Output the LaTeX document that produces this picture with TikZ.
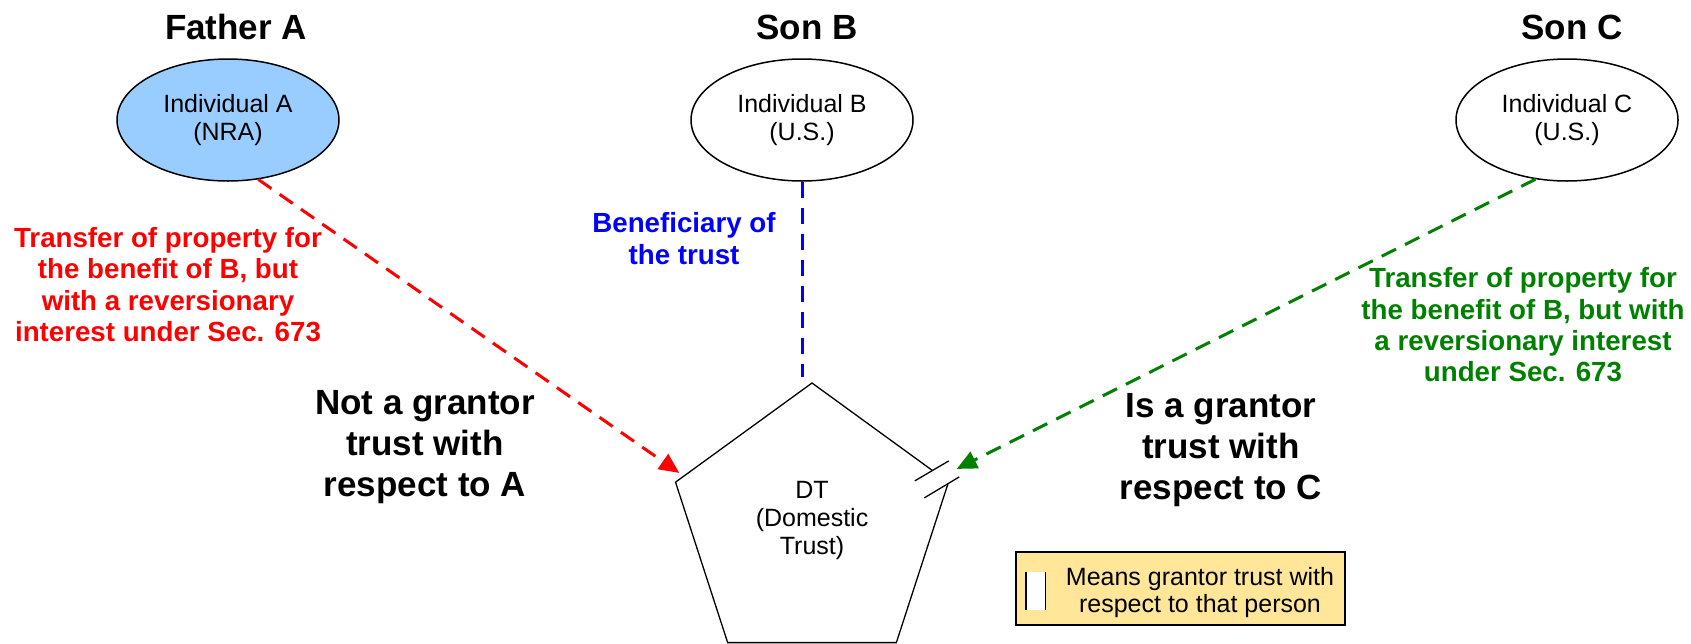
\documentclass[tikz,border=0pt]{standalone}
\usepackage{fontspec}
\setmainfont{Liberation Sans}
\usetikzlibrary{shapes.geometric,arrows.meta,calc}
\definecolor{nrablue}{HTML}{99CCFF}
\definecolor{legendfill}{HTML}{FFE699}
\definecolor{dgreen}{HTML}{008000}
\begin{document}
\begin{tikzpicture}[x=1pt,y=-1pt,
  title/.style={font=\fontsize{35}{40}\selectfont\bfseries, anchor=base, inner sep=0pt},
  person/.style={ellipse, draw, line width=1.5pt, minimum width=222pt, minimum height=122pt, inner sep=0pt, align=center, font=\fontsize{25}{28}\selectfont},
  ann/.style={align=center, inner sep=0pt, font=\fontsize{27.7}{31.3}\selectfont\bfseries},
  big/.style={align=center, inner sep=0pt, font=\fontsize{35}{41}\selectfont\bfseries},
  plaintext/.style={align=center, inner sep=0pt, font=\fontsize{25}{28}\selectfont},
  conn/.style={line width=3pt, dash pattern=on 16pt off 10pt},
  tipped/.style={-{Triangle[length=20pt,width=18pt]}}
]
\useasboundingbox (0,0) rectangle (1691,643);
% titles
\node[title] (tA) at (236,39) {Father A};
\node[title] (tB) at (807,39) {Son B};
\node[title] (tC) at (1572,39) {Son C};
% persons
\node[person, fill=nrablue] (A) at (228,120) {Individual A\\(NRA)};
\node[person] (B) at (802,120) {Individual B\\(U.S.)};
\node[person] (C) at (1567,120) {Individual C\\(U.S.)};
% trust
\node[regular polygon, regular polygon sides=5, draw, line width=1.3pt, minimum size=287pt, inner sep=0pt] (P) at (812,526.5) {};
\node[plaintext] (PT) at (812,520.5) {DT\\(Domestic\\Trust)};
% grantor break mark
\fill[white] ($(P.corner 5)+(-34.5,-1)$) -- ($(P.corner 5)+(-0.5,-21)$) -- ($(P.corner 5)+(10,-5)$) -- ($(P.corner 5)+(-25,16)$) -- cycle;
\draw[line width=1.3pt] ($(P.corner 5)+(-34.5,-1)$) -- ($(P.corner 5)+(-0.5,-21)$);
\draw[line width=1.3pt] ($(P.corner 5)+(-25,16)$) -- ($(P.corner 5)+(10,-5)$);
% connectors
\draw[conn, red, tipped] (A.-63) -- ($(P.corner 2)+(4.5,-9)$);
\draw[conn, dgreen, tipped] (C.-118) -- ($(P.corner 5)+(7.5,-13)$);
\draw[conn, blue] (B.south) -- ($(B.south |- P.corner 1)+(0,-5)$);
% annotations
\node[ann, text=red] (tr) at (168,284.5) {Transfer of property for\\the benefit of B, but\\with a reversionary\\interest under Sec. 673};
\node[ann, text=blue] (tb) at (684,238.5) {Beneficiary of\\the trust};
\node[ann, text=dgreen] (tg) at (1523,325) {Transfer of property for\\the benefit of B, but with\\a reversionary interest\\under Sec. 673};
\node[big] (na) at (425,447) {Not a grantor\\trust with\\respect to A};
\node[big] (ig) at (1221,450) {Is a grantor\\trust with\\respect to C};
% legend
\node[draw, line width=1.3pt, fill=legendfill, minimum width=329pt, minimum height=73pt, inner sep=0pt] (L) at (1180.5,588.5) {};
\node[fill=white, minimum width=19pt, minimum height=38pt, inner sep=0pt] (LS) at (1035.5,591) {};
\draw[line width=1.5pt] (LS.north west) -- (LS.south west);
\draw[line width=1pt] (LS.north east) -- (LS.south east);
\node[plaintext, font=\fontsize{25}{27}\selectfont] (LT) at (1200,593) {Means grantor trust with\\respect to that person};
\end{tikzpicture}
\end{document}
